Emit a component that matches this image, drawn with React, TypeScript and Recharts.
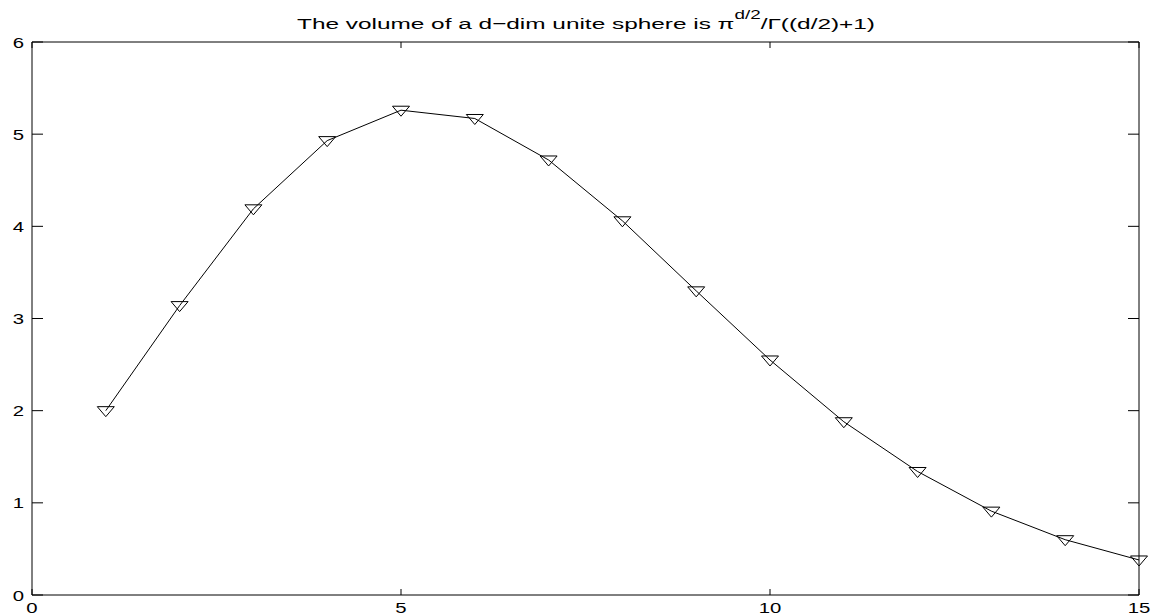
import { LineChart, Line, XAxis, YAxis } from 'recharts';

// dimension d and volume of the unit d-sphere
const dims = [1, 2, 3, 4, 5, 6, 7, 8, 9, 10, 11, 12, 13, 14, 15];
const volumes = [2.0, 3.14, 4.19, 4.93, 5.26, 5.17, 4.72, 4.06, 3.3, 2.55, 1.88, 1.34, 0.91, 0.6, 0.38];

const xTicks = [0, 5, 10, 15];
const yTicks = [0, 1, 2, 3, 4, 5, 6];

const data = dims.map((d, i) => ({ d, v: volumes[i] }));

const FONT = '"Liberation Sans", Arial, Helvetica, sans-serif';
const DIGIT_W = 11.3;

function label(x: number, y: number, str: string, anchor: 'start' | 'middle' | 'end') {
  return (
    <text
      x={x}
      y={y}
      textAnchor={anchor}
      fontFamily={FONT}
      fontSize={15.5}
      fill="#000"
      stroke="none"
      textLength={str.length * DIGIT_W}
      lengthAdjust="spacingAndGlyphs"
    >
      {str}
    </text>
  );
}

const BottomTick = (props: any) => {
  const { x, y, payload } = props;
  return (
    <g>
      <line x1={x} y1={y} x2={x} y2={y - 6} stroke="#000" />
      {label(x, y + 18, String(payload.value), 'middle')}
    </g>
  );
};

const TopTick = (props: any) => {
  const { x, y } = props;
  return <line x1={x} y1={y} x2={x} y2={y + 6} stroke="#000" />;
};

const LeftTick = (props: any) => {
  const { x, y, payload } = props;
  return (
    <g>
      <line x1={x} y1={y} x2={x + 11} y2={y} stroke="#000" />
      {label(x - 8, y + 5.5, String(payload.value), 'end')}
    </g>
  );
};

const RightTick = (props: any) => {
  const { x, y } = props;
  return <line x1={x} y1={y} x2={x - 11} y2={y} stroke="#000" />;
};

const TriangleDot = (props: any) => {
  const { cx, cy } = props;
  if (cx == null || cy == null) return null;
  return (
    <polygon
      points={`${cx - 8.5},${cy - 4} ${cx + 8.5},${cy - 4} ${cx},${cy + 6}`}
      fill="none"
      stroke="#000"
      strokeWidth={1}
    />
  );
};

export default function App() {
  return (
    <div style={{ position: 'absolute', left: 0, top: 0, width: 1153, height: 615, background: '#fff' }}>
      <LineChart width={1153} height={615} data={data} margin={{ top: 32, right: 4, bottom: 0, left: 0 }}>
        <XAxis
          dataKey="d"
          type="number"
          domain={[0, 15]}
          ticks={xTicks}
          interval={0}
          height={20}
          tickSize={0}
          tickMargin={0}
          stroke="#000"
          tick={<BottomTick />}
        />
        <XAxis
          xAxisId="top"
          orientation="top"
          dataKey="d"
          type="number"
          domain={[0, 15]}
          ticks={xTicks}
          interval={0}
          height={10}
          tickSize={0}
          tickMargin={0}
          stroke="#000"
          tick={<TopTick />}
        />
        <YAxis
          type="number"
          domain={[0, 6]}
          ticks={yTicks}
          interval={0}
          width={32}
          tickSize={0}
          tickMargin={0}
          stroke="#000"
          tick={<LeftTick />}
        />
        <YAxis
          yAxisId="right"
          orientation="right"
          type="number"
          domain={[0, 6]}
          ticks={yTicks}
          interval={0}
          width={10}
          tickSize={0}
          tickMargin={0}
          stroke="#000"
          tick={<RightTick />}
        />
        <Line
          xAxisId="top"
          yAxisId="right"
          dataKey="v"
          stroke="none"
          dot={false}
          activeDot={false}
          isAnimationActive={false}
        />
        <Line
          type="linear"
          dataKey="v"
          stroke="#000"
          strokeWidth={1}
          dot={<TriangleDot />}
          activeDot={false}
          isAnimationActive={false}
        />
      </LineChart>
      <svg width={1153} height={40} style={{ position: 'absolute', left: 0, top: 0 }}>
        <text
          x={297}
          y={29}
          fontFamily={FONT}
          fontSize={15.5}
          fill="#000"
          textLength={578}
          lengthAdjust="spacingAndGlyphs"
        >
          The volume of a d−dim unite sphere is π
          <tspan dy={-10} fontSize={12}>d/2</tspan>
          <tspan dy={10}>/Γ((d/2)+1)</tspan>
        </text>
      </svg>
    </div>
  );
}
